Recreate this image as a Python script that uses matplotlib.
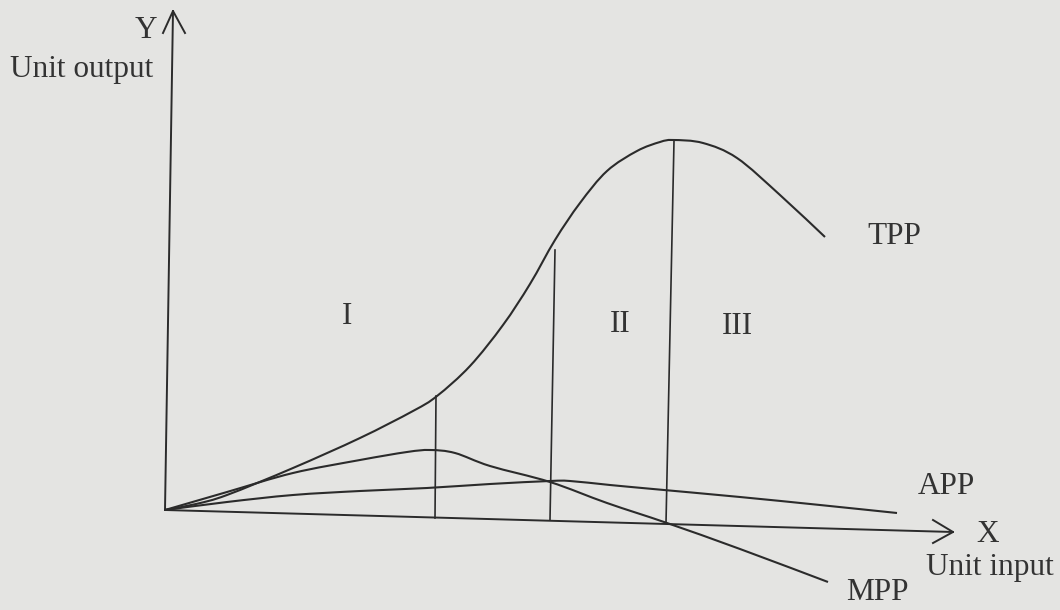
import matplotlib
matplotlib.use("Agg")
import matplotlib.pyplot as plt
from matplotlib.path import Path
from matplotlib.patches import PathPatch

# everything, in picture pixels (y grows downwards)
tpp_x = [165, 196, 227, 293, 360, 413, 437, 470, 503, 530, 555, 580, 607, 637, 660, 673, 703, 737, 780, 825]
tpp_y = [510, 504, 495, 468, 438, 411, 396, 366, 325, 284, 240, 203, 171, 151, 142, 140, 143, 158, 195, 237]

mpp_x = [165, 227, 293, 360, 407, 430, 455, 490, 550, 607, 667, 740, 828]
mpp_y = [510, 492, 473, 460, 452, 450, 453, 466, 482, 503, 523, 549, 582]

app_x = [165, 227, 293, 360, 427, 490, 550, 570, 610, 653, 740, 820, 897]
app_y = [510, 502, 495, 491, 488, 484, 481, 481, 485, 489, 497, 505, 513]

# stage boundaries: top and bottom ends of each vertical line
stage_x_top = [436, 555, 674]
stage_y_top = [396, 250, 141]
stage_x_bot = [435, 550, 666]
stage_y_bot = [518, 520, 523]

# axes (the scan is slightly rotated)
origin = (165, 510)
y_tip = (173, 11)
x_tip = (953, 532)
y_head_x = [163, 173, 185]
y_head_y = [33, 11, 33]
x_head_x = [933, 953, 933]
x_head_y = [520, 532, 543]

labels = ["Y", "Unit output", "I", "II", "III", "TPP", "APP", "X", "Unit input", "MPP"]
label_x = [146, 82, 347, 620, 737, 867, 946, 988, 990, 877]
label_y = [31, 70, 316, 325, 327, 236, 487, 534, 568, 593]
label_ha = ["center", "center", "center", "center", "center", "left", "center", "center", "center", "center"]

paper = "#e4e4e2"
ink = "#2b2b2b"


def smooth_path(xs, ys):
    # Catmull-Rom through the read points, drawn as cubic Bezier pieces
    pts = list(zip(xs, ys))
    verts = [pts[0]]
    codes = [Path.MOVETO]
    n = len(pts)
    for i in range(n - 1):
        p0 = pts[max(i - 1, 0)]
        p1 = pts[i]
        p2 = pts[i + 1]
        p3 = pts[min(i + 2, n - 1)]
        c1 = (p1[0] + (p2[0] - p0[0]) / 6, p1[1] + (p2[1] - p0[1]) / 6)
        c2 = (p2[0] - (p3[0] - p1[0]) / 6, p2[1] - (p3[1] - p1[1]) / 6)
        verts += [c1, c2, p2]
        codes += [Path.CURVE4] * 3
    return Path(verts, codes)


fig = plt.figure(figsize=(10.6, 6.1), dpi=100, facecolor=paper)
ax = fig.add_axes([0, 0, 1, 1])
ax.set_facecolor(paper)
ax.set_xlim(0, 1060)
ax.set_ylim(610, 0)
ax.axis("off")

ax.plot([origin[0], y_tip[0]], [origin[1], y_tip[1]], color=ink, lw=1.4)
ax.plot([origin[0], x_tip[0]], [origin[1], x_tip[1]], color=ink, lw=1.4)
ax.plot(y_head_x, y_head_y, color=ink, lw=1.4)
ax.plot(x_head_x, x_head_y, color=ink, lw=1.4)

for xs, ys in [(tpp_x, tpp_y), (mpp_x, mpp_y), (app_x, app_y)]:
    ax.add_patch(PathPatch(smooth_path(xs, ys), fill=False, edgecolor=ink, lw=1.5))

for xt, yt, xb, yb in zip(stage_x_top, stage_y_top, stage_x_bot, stage_y_bot):
    ax.plot([xt, xb], [yt, yb], color=ink, lw=1.2)

for s, x, y, ha in zip(labels, label_x, label_y, label_ha):
    ax.text(x, y, s, ha=ha, va="center", fontsize=22.5,
            family="Liberation Serif", color="#333333")

fig.savefig("out.png", dpi=100, facecolor=paper)
